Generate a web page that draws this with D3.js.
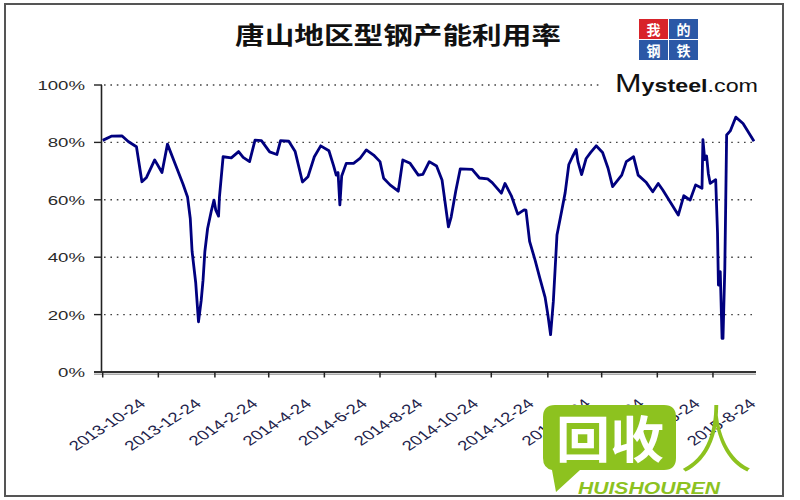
<!DOCTYPE html>
<html><head><meta charset="utf-8">
<script src="https://cdn.jsdelivr.net/npm/d3@7"></script>
<style>body{margin:0;background:#fff}svg{display:block}</style>
</head><body><svg id="c" width="800" height="500"></svg>
<script>
const chartTitle = "唐山地区型钢产能利用率";
const dates = ["2013-10-24","2013-11-03","2013-11-14","2013-11-21","2013-11-30","2013-12-06","2013-12-11","2013-12-20","2013-12-28","2014-01-03","2014-01-12","2014-01-20","2014-01-25","2014-01-28","2014-01-30","2014-02-03","2014-02-06","2014-02-09","2014-02-11","2014-02-13","2014-02-16","2014-02-20","2014-02-23","2014-02-25","2014-02-28","2014-03-01","2014-03-03","2014-03-05","2014-03-14","2014-03-22","2014-03-27","2014-04-03","2014-04-09","2014-04-16","2014-04-25","2014-05-03","2014-05-07","2014-05-16","2014-05-23","2014-05-31","2014-06-06","2014-06-13","2014-06-20","2014-06-29","2014-07-04","2014-07-07","2014-07-09","2014-07-11","2014-07-13","2014-07-18","2014-07-26","2014-08-02","2014-08-09","2014-08-17","2014-08-24","2014-08-28","2014-09-04","2014-09-13","2014-09-18","2014-09-26","2014-10-05","2014-10-10","2014-10-17","2014-10-25","2014-10-31","2014-11-07","2014-11-10","2014-11-15","2014-11-20","2014-12-03","2014-12-11","2014-12-20","2014-12-25","2015-01-04","2015-01-08","2015-01-15","2015-01-22","2015-01-29","2015-01-31","2015-02-04","2015-02-10","2015-02-15","2015-02-21","2015-02-24","2015-02-27","2015-03-02","2015-03-04","2015-03-06","2015-03-11","2015-03-15","2015-03-19","2015-03-23","2015-03-27","2015-03-29","2015-04-02","2015-04-07","2015-04-12","2015-04-18","2015-04-25","2015-05-01","2015-05-06","2015-05-16","2015-05-21","2015-05-29","2015-06-03","2015-06-12","2015-06-19","2015-06-25","2015-06-30","2015-07-08","2015-07-17","2015-07-23","2015-07-30","2015-08-05","2015-08-12","2015-08-13","2015-08-15","2015-08-17","2015-08-19","2015-08-21","2015-08-27","2015-08-29","2015-08-30","2015-09-01","2015-09-03","2015-09-04","2015-09-06","2015-09-07","2015-09-08","2015-09-12","2015-09-18","2015-09-26","2015-10-08"];
const values = [80.7,82.2,82.3,80.3,78.5,66.3,67.8,73.9,69.5,79.4,72,65.5,61,53.5,42,31,17.5,25,32,42,50,56,59.9,56.4,54.3,61,68,75,74.6,76.8,74.8,73.3,80.8,80.6,76.7,75.8,80.6,80.4,76.8,66.2,68,75,78.8,77.1,72,68.6,69.5,58.2,68.3,72.7,72.7,74.4,77.4,75.6,73.3,67.5,65.2,63,73.9,72.7,68.6,68.9,73.3,71.8,66.9,50.6,54,63,70.8,70.6,67.6,67.3,66,62.3,65.7,61.4,55,56.5,56.4,45.5,39,33,26,20,13,24.5,36,47.7,55.8,62.5,72.3,75,77.5,73.3,68.8,74.4,76.5,78.8,76.5,71,64.6,68.6,73.3,75,68.6,66,62.8,65.7,63.4,59.3,54.7,61.4,59.9,65.2,64,81,74,75.3,69,65.7,67,48.5,30.3,35,11.7,11.7,36.1,59,82.6,84,88.8,86.6,80.4];
const yTicks = [0,20,40,60,80,100];
const xTickLabels = ["2013-10-24","2013-12-24","2014-2-24","2014-4-24","2014-6-24","2014-8-24","2014-10-24","2014-12-24","2015-2-24","2015-4-24","2015-6-24","2015-8-24"];
const logoChars = ["我","的","钢","铁"];
const brandText = "Mysteel.com";
const watermarkChars = "回收";
const watermarkPerson = "人";
const watermarkLatin = "HUISHOUREN";

const parse = d3.timeParse("%Y-%m-%d");
const data = dates.map((d,i)=>({date:parse(d), value:values[i]}));
const SX = 1.38;
const svg = d3.select("#c");

// frame
svg.append("rect").attr("x",5).attr("y",4).attr("width",778).attr("height",492)
  .attr("fill","#fff").attr("stroke","#555").attr("stroke-width",2);

const x = d3.scaleTime().domain([parse("2013-10-24"), parse("2015-10-08")]).range([102.7, 754]);
const y = d3.scaleLinear().domain([0,100]).range([372, 85]);

// gridlines
svg.append("g").selectAll("line").data(yTicks.filter(v=>v>0)).join("line")
  .attr("x1",104).attr("x2",v=>v===100?600:756)
  .attr("y1",v=>y(v)).attr("y2",v=>y(v))
  .attr("stroke","#444").attr("stroke-width",1.4).attr("stroke-dasharray","1.6,4.8");

// title
svg.append("text").attr("x",398).attr("y",44).attr("text-anchor","middle")
  .attr("font-family","'Noto Sans CJK SC'").attr("font-weight",700).attr("font-size",24)
  .attr("textLength",326).attr("lengthAdjust","spacingAndGlyphs").attr("fill","#111").text(chartTitle);

// logo
const logo = svg.append("g");
logo.append("rect").attr("x",604).attr("y",14).attr("width",162).attr("height",84).attr("fill","#fff");
const cellW=30, cellH=21;
logoChars.forEach((c,i)=>{
  const cx = 639 + (i%2)*cellW, cy = 19 + Math.floor(i/2)*cellH;
  logo.append("rect").attr("x",cx).attr("y",cy).attr("width",cellW-1).attr("height",cellH-1)
    .attr("fill", i===0?"#d8232a":"#2b58a6");
  logo.append("text").attr("x",cx+(cellW-1)/2).attr("y",cy+15.5).attr("text-anchor","middle")
    .attr("font-family","'Noto Sans CJK SC'").attr("font-weight",700).attr("font-size",14)
    .attr("fill","#fff").text(c);
});
const bt = logo.append("text").attr("x",615).attr("y",92).attr("font-family","'Liberation Sans'")
  .attr("textLength",143).attr("lengthAdjust","spacingAndGlyphs").attr("fill","#111");
bt.append("tspan").attr("font-size",26).text(brandText[0]);
bt.append("tspan").attr("font-size",19).attr("font-weight",700).text(brandText.slice(1,7));
bt.append("tspan").attr("font-size",19).text(brandText.slice(7));

// y axis
svg.append("line").attr("x1",101.5).attr("x2",101.5).attr("y1",y(100)).attr("y2",y(0)+1)
  .attr("stroke","#222").attr("stroke-width",1.6);
const yt = svg.append("g");
yt.selectAll("line").data(yTicks).join("line")
  .attr("x1",94).attr("x2",102).attr("y1",v=>y(v)).attr("y2",v=>y(v))
  .attr("stroke","#222").attr("stroke-width",1.4);
yt.selectAll("text").data(yTicks).join("text")
  .attr("transform",v=>`translate(85,${y(v)+5}) scale(${SX},1)`)
  .attr("text-anchor","end").attr("font-family","'Liberation Sans'").attr("font-size",13.5)
  .attr("fill","#2a2a2a").text(v=>v+"%");

// x axis
svg.append("line").attr("x1",94).attr("x2",756).attr("y1",374.2).attr("y2",374.2)
  .attr("stroke","#aaa").attr("stroke-width",1.5);
svg.append("line").attr("x1",94).attr("x2",756).attr("y1",372).attr("y2",372)
  .attr("stroke","#333").attr("stroke-width",2);
const xTickDates = xTickLabels.map(s=>parse(s));
const xt = svg.append("g");
xt.selectAll("line").data(xTickDates).join("line")
  .attr("x1",d=>x(d)).attr("x2",d=>x(d)).attr("y1",372).attr("y2",377.5)
  .attr("stroke","#222").attr("stroke-width",1.5);
xt.selectAll("text").data(xTickLabels).join("text")
  .attr("transform",(s,i)=>`translate(${x(xTickDates[i])+44},405) scale(${SX},1) rotate(-42)`)
  .attr("text-anchor","end").attr("font-family","'Liberation Sans'").attr("font-size",13.5)
  .attr("fill","#22224a").text(s=>s);

// series line
svg.append("path").datum(data)
  .attr("d", d3.line().x(d=>x(d.date)).y(d=>y(d.value)))
  .attr("fill","none").attr("stroke","#00007f").attr("stroke-width",2.8)
  .attr("stroke-linejoin","round");

// watermark
const wm = svg.append("g");
const green = "#8dc21f";
wm.append("path").attr("d","M555,405 H664 Q676,405 676,417 V458 Q676,470 664,470 H580 L556,492 L552,470 Q543,468 543,458 V417 Q543,405 555,405 Z")
  .attr("fill",green);
wm.append("text").attr("x",556).attr("y",458).attr("font-family","'Noto Sans CJK SC'").attr("font-weight",700)
  .attr("font-size",50).attr("textLength",108).attr("lengthAdjust","spacingAndGlyphs").attr("fill","#fff").text(watermarkChars);
wm.append("text").attr("x",716).attr("y",466).attr("text-anchor","middle").attr("font-family","'Noto Sans CJK SC'")
  .attr("font-weight",300).attr("font-size",74).attr("fill",green).text(watermarkPerson);
wm.append("text").attr("x",578).attr("y",494).attr("font-family","'Liberation Sans'").attr("font-weight",700)
  .attr("font-style","italic").attr("font-size",17).attr("textLength",142).attr("lengthAdjust","spacingAndGlyphs")
  .attr("fill",green).text(watermarkLatin);
</script></body></html>
